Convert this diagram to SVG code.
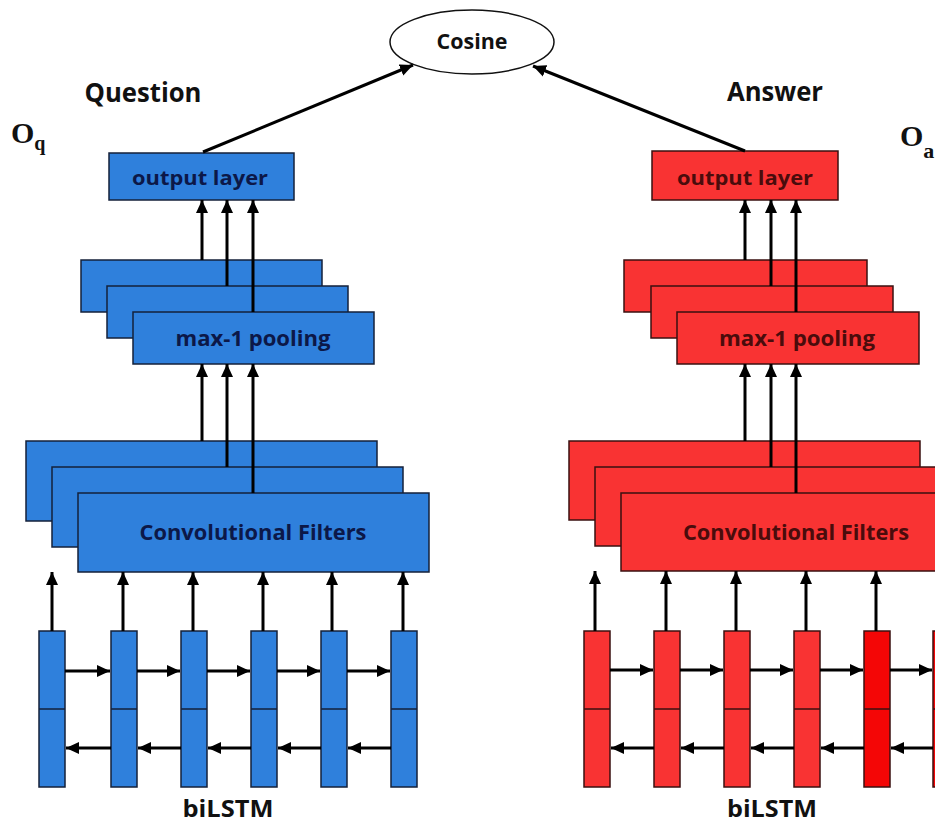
<svg xmlns="http://www.w3.org/2000/svg" width="935" height="824" viewBox="0 0 935 824">
  <style>
    .q { fill: #2f80dc; stroke: #14203a; stroke-width: 1.5; }
    .a { fill: #f93333; stroke: #3a1010; stroke-width: 1.5; }
    .a2 { fill: #f40606; stroke: #3a1010; stroke-width: 1.5; }
    .lbl { font-family: "Open Sans", "Liberation Sans", sans-serif; font-weight: bold; text-anchor: middle; }
    .qt { fill: #0c1848; }
    .at { fill: #4a0c0c; }
    .hd { fill: #111; }
    .conn { stroke: #000; stroke-width: 3; fill: none; }
    .arr { marker-end: url(#head); }
    .math { font-family: "Liberation Serif", "DejaVu Serif", serif; font-weight: bold; fill: #111; }
  </style>
  <defs>
    <marker id="head" markerUnits="userSpaceOnUse" viewBox="0 0 13 13" refX="13" refY="6.5" markerWidth="13" markerHeight="13" orient="auto">
      <path d="M0,0.5 L13,6.5 L0,12.5 z" fill="#000"/>
    </marker>
  </defs>
  <rect width="935" height="824" fill="#fff"/>

  <!-- similarity node -->
  <g id="cosine">
    <ellipse cx="472" cy="42" rx="82" ry="32" fill="#fff" stroke="#111" stroke-width="1.5"/>
    <text class="lbl hd" x="472" y="49" font-size="21" textLength="71" lengthAdjust="spacingAndGlyphs">Cosine</text>
  </g>

  <!-- headings -->
  <g id="question-label">
    <text class="lbl hd" x="143" y="102" font-size="26" textLength="117" lengthAdjust="spacingAndGlyphs">Question</text>
    <text class="math" x="11" y="143" font-size="30">O<tspan font-size="20" dy="7">q</tspan></text>
  </g>
  <g id="answer-label">
    <text class="lbl hd" x="775" y="101" font-size="26" textLength="96" lengthAdjust="spacingAndGlyphs">Answer</text>
    <text class="math" x="900" y="146" font-size="30">O<tspan font-size="22" dy="12">a</tspan></text>
  </g>

  <!-- question tower -->
  <g id="q-output">
    <rect class="q" x="109" y="153" width="185" height="47"/>
    <text class="lbl qt" x="200" y="185" font-size="19" textLength="136" lengthAdjust="spacingAndGlyphs">output layer</text>
  </g>
  <g id="q-pooling">
    <rect class="q" x="81" y="260" width="241" height="52"/>
    <rect class="q" x="107" y="286" width="241" height="52"/>
    <rect class="q" x="133" y="312" width="241" height="52"/>
    <text class="lbl qt" x="253" y="346" font-size="22" textLength="155" lengthAdjust="spacingAndGlyphs">max-1 pooling</text>
  </g>
  <g id="q-conv">
    <rect class="q" x="26" y="441" width="351" height="80"/>
    <rect class="q" x="52" y="467" width="351" height="80"/>
    <rect class="q" x="78" y="493" width="351" height="79"/>
    <text class="lbl qt" x="253" y="540" font-size="22" textLength="227" lengthAdjust="spacingAndGlyphs">Convolutional Filters</text>
  </g>
  <g id="q-bilstm">
    <rect class="q" x="39" y="631" width="26" height="156"/>
    <rect class="q" x="111" y="631" width="26" height="156"/>
    <rect class="q" x="181" y="631" width="26" height="156"/>
    <rect class="q" x="251" y="631" width="26" height="156"/>
    <rect class="q" x="321" y="631" width="26" height="156"/>
    <rect class="q" x="391" y="631" width="26" height="156"/>
    <path d="M39,709 H65 M111,709 H137 M181,709 H207 M251,709 H277 M321,709 H347 M391,709 H417" stroke="#14203a" stroke-width="1.5"/>
    <text class="lbl hd" x="228" y="817" font-size="23" textLength="91" lengthAdjust="spacingAndGlyphs">biLSTM</text>
  </g>

  <!-- answer tower -->
  <g id="a-output">
    <rect class="a" x="652" y="151" width="186" height="49"/>
    <text class="lbl at" x="745" y="185" font-size="19" textLength="136" lengthAdjust="spacingAndGlyphs">output layer</text>
  </g>
  <g id="a-pooling">
    <rect class="a" x="624" y="260" width="243" height="52"/>
    <rect class="a" x="651" y="286" width="242" height="52"/>
    <rect class="a" x="677" y="312" width="242" height="52"/>
    <text class="lbl at" x="797" y="346" font-size="22" textLength="156" lengthAdjust="spacingAndGlyphs">max-1 pooling</text>
  </g>
  <g id="a-conv">
    <rect class="a" x="569" y="441" width="351" height="79"/>
    <rect class="a" x="595" y="467" width="351" height="79"/>
    <rect class="a" x="621" y="493" width="351" height="78"/>
    <text class="lbl at" x="796" y="540" font-size="22" textLength="226" lengthAdjust="spacingAndGlyphs">Convolutional Filters</text>
  </g>
  <g id="a-bilstm">
    <rect class="a" x="584" y="631" width="26" height="156"/>
    <rect class="a" x="654" y="631" width="26" height="156"/>
    <rect class="a" x="724" y="631" width="26" height="156"/>
    <rect class="a" x="794" y="631" width="26" height="156"/>
    <rect class="a2" x="864" y="631" width="26" height="156"/>
    <rect class="a2" x="933" y="631" width="26" height="156"/>
    <path d="M584,709 H610 M654,709 H680 M724,709 H750 M794,709 H820 M864,709 H890 M933,709 H959" stroke="#3a1010" stroke-width="1.5"/>
    <text class="lbl hd" x="772" y="817" font-size="23" textLength="90" lengthAdjust="spacingAndGlyphs">biLSTM</text>
  </g>

  <g id="connectors">
    <!-- towers to similarity -->
    <line class="conn arr" x1="203" y1="152" x2="413" y2="65"/>
    <line class="conn arr" x1="745" y1="151" x2="533" y2="66"/>

    <!-- question: pooling to output -->
    <line class="conn arr" x1="202" y1="260" x2="202" y2="200"/>
    <line class="conn arr" x1="227" y1="286" x2="227" y2="200"/>
    <line class="conn arr" x1="253" y1="312" x2="253" y2="200"/>
    <!-- question: conv to pooling -->
    <line class="conn arr" x1="202" y1="441" x2="202" y2="364"/>
    <line class="conn arr" x1="227" y1="467" x2="227" y2="364"/>
    <line class="conn arr" x1="253" y1="493" x2="253" y2="364"/>
    <!-- question: biLSTM to conv -->
    <line class="conn arr" x1="52" y1="631" x2="52" y2="572"/>
    <line class="conn arr" x1="123" y1="631" x2="123" y2="572"/>
    <line class="conn arr" x1="193" y1="631" x2="193" y2="572"/>
    <line class="conn arr" x1="263" y1="631" x2="263" y2="572"/>
    <line class="conn arr" x1="332" y1="631" x2="332" y2="572"/>
    <line class="conn arr" x1="403" y1="631" x2="403" y2="572"/>
    <!-- question: recurrent links -->
    <line class="conn arr" x1="65" y1="671" x2="110" y2="671"/>
    <line class="conn arr" x1="137" y1="671" x2="180" y2="671"/>
    <line class="conn arr" x1="207" y1="671" x2="250" y2="671"/>
    <line class="conn arr" x1="277" y1="671" x2="320" y2="671"/>
    <line class="conn arr" x1="347" y1="671" x2="390" y2="671"/>
    <line class="conn arr" x1="111" y1="748" x2="66" y2="748"/>
    <line class="conn arr" x1="181" y1="748" x2="138" y2="748"/>
    <line class="conn arr" x1="251" y1="748" x2="208" y2="748"/>
    <line class="conn arr" x1="321" y1="748" x2="278" y2="748"/>
    <line class="conn arr" x1="391" y1="748" x2="348" y2="748"/>

    <!-- answer: pooling to output -->
    <line class="conn arr" x1="745" y1="260" x2="745" y2="200"/>
    <line class="conn arr" x1="771" y1="286" x2="771" y2="200"/>
    <line class="conn arr" x1="796" y1="312" x2="796" y2="200"/>
    <!-- answer: conv to pooling -->
    <line class="conn arr" x1="745" y1="441" x2="745" y2="364"/>
    <line class="conn arr" x1="771" y1="467" x2="771" y2="364"/>
    <line class="conn arr" x1="796" y1="493" x2="796" y2="364"/>
    <!-- answer: biLSTM to conv -->
    <line class="conn arr" x1="595" y1="631" x2="595" y2="571"/>
    <line class="conn arr" x1="666" y1="631" x2="666" y2="571"/>
    <line class="conn arr" x1="736" y1="631" x2="736" y2="571"/>
    <line class="conn arr" x1="806" y1="631" x2="806" y2="571"/>
    <line class="conn arr" x1="876" y1="631" x2="876" y2="571"/>
    <!-- answer: recurrent links -->
    <line class="conn arr" x1="610" y1="670" x2="653" y2="670"/>
    <line class="conn arr" x1="680" y1="670" x2="723" y2="670"/>
    <line class="conn arr" x1="750" y1="670" x2="793" y2="670"/>
    <line class="conn arr" x1="820" y1="670" x2="863" y2="670"/>
    <line class="conn arr" x1="890" y1="670" x2="932" y2="670"/>
    <line class="conn arr" x1="654" y1="748" x2="611" y2="748"/>
    <line class="conn arr" x1="724" y1="748" x2="681" y2="748"/>
    <line class="conn arr" x1="794" y1="748" x2="751" y2="748"/>
    <line class="conn arr" x1="864" y1="748" x2="821" y2="748"/>
    <line class="conn arr" x1="933" y1="748" x2="891" y2="748"/>
  </g>
</svg>
